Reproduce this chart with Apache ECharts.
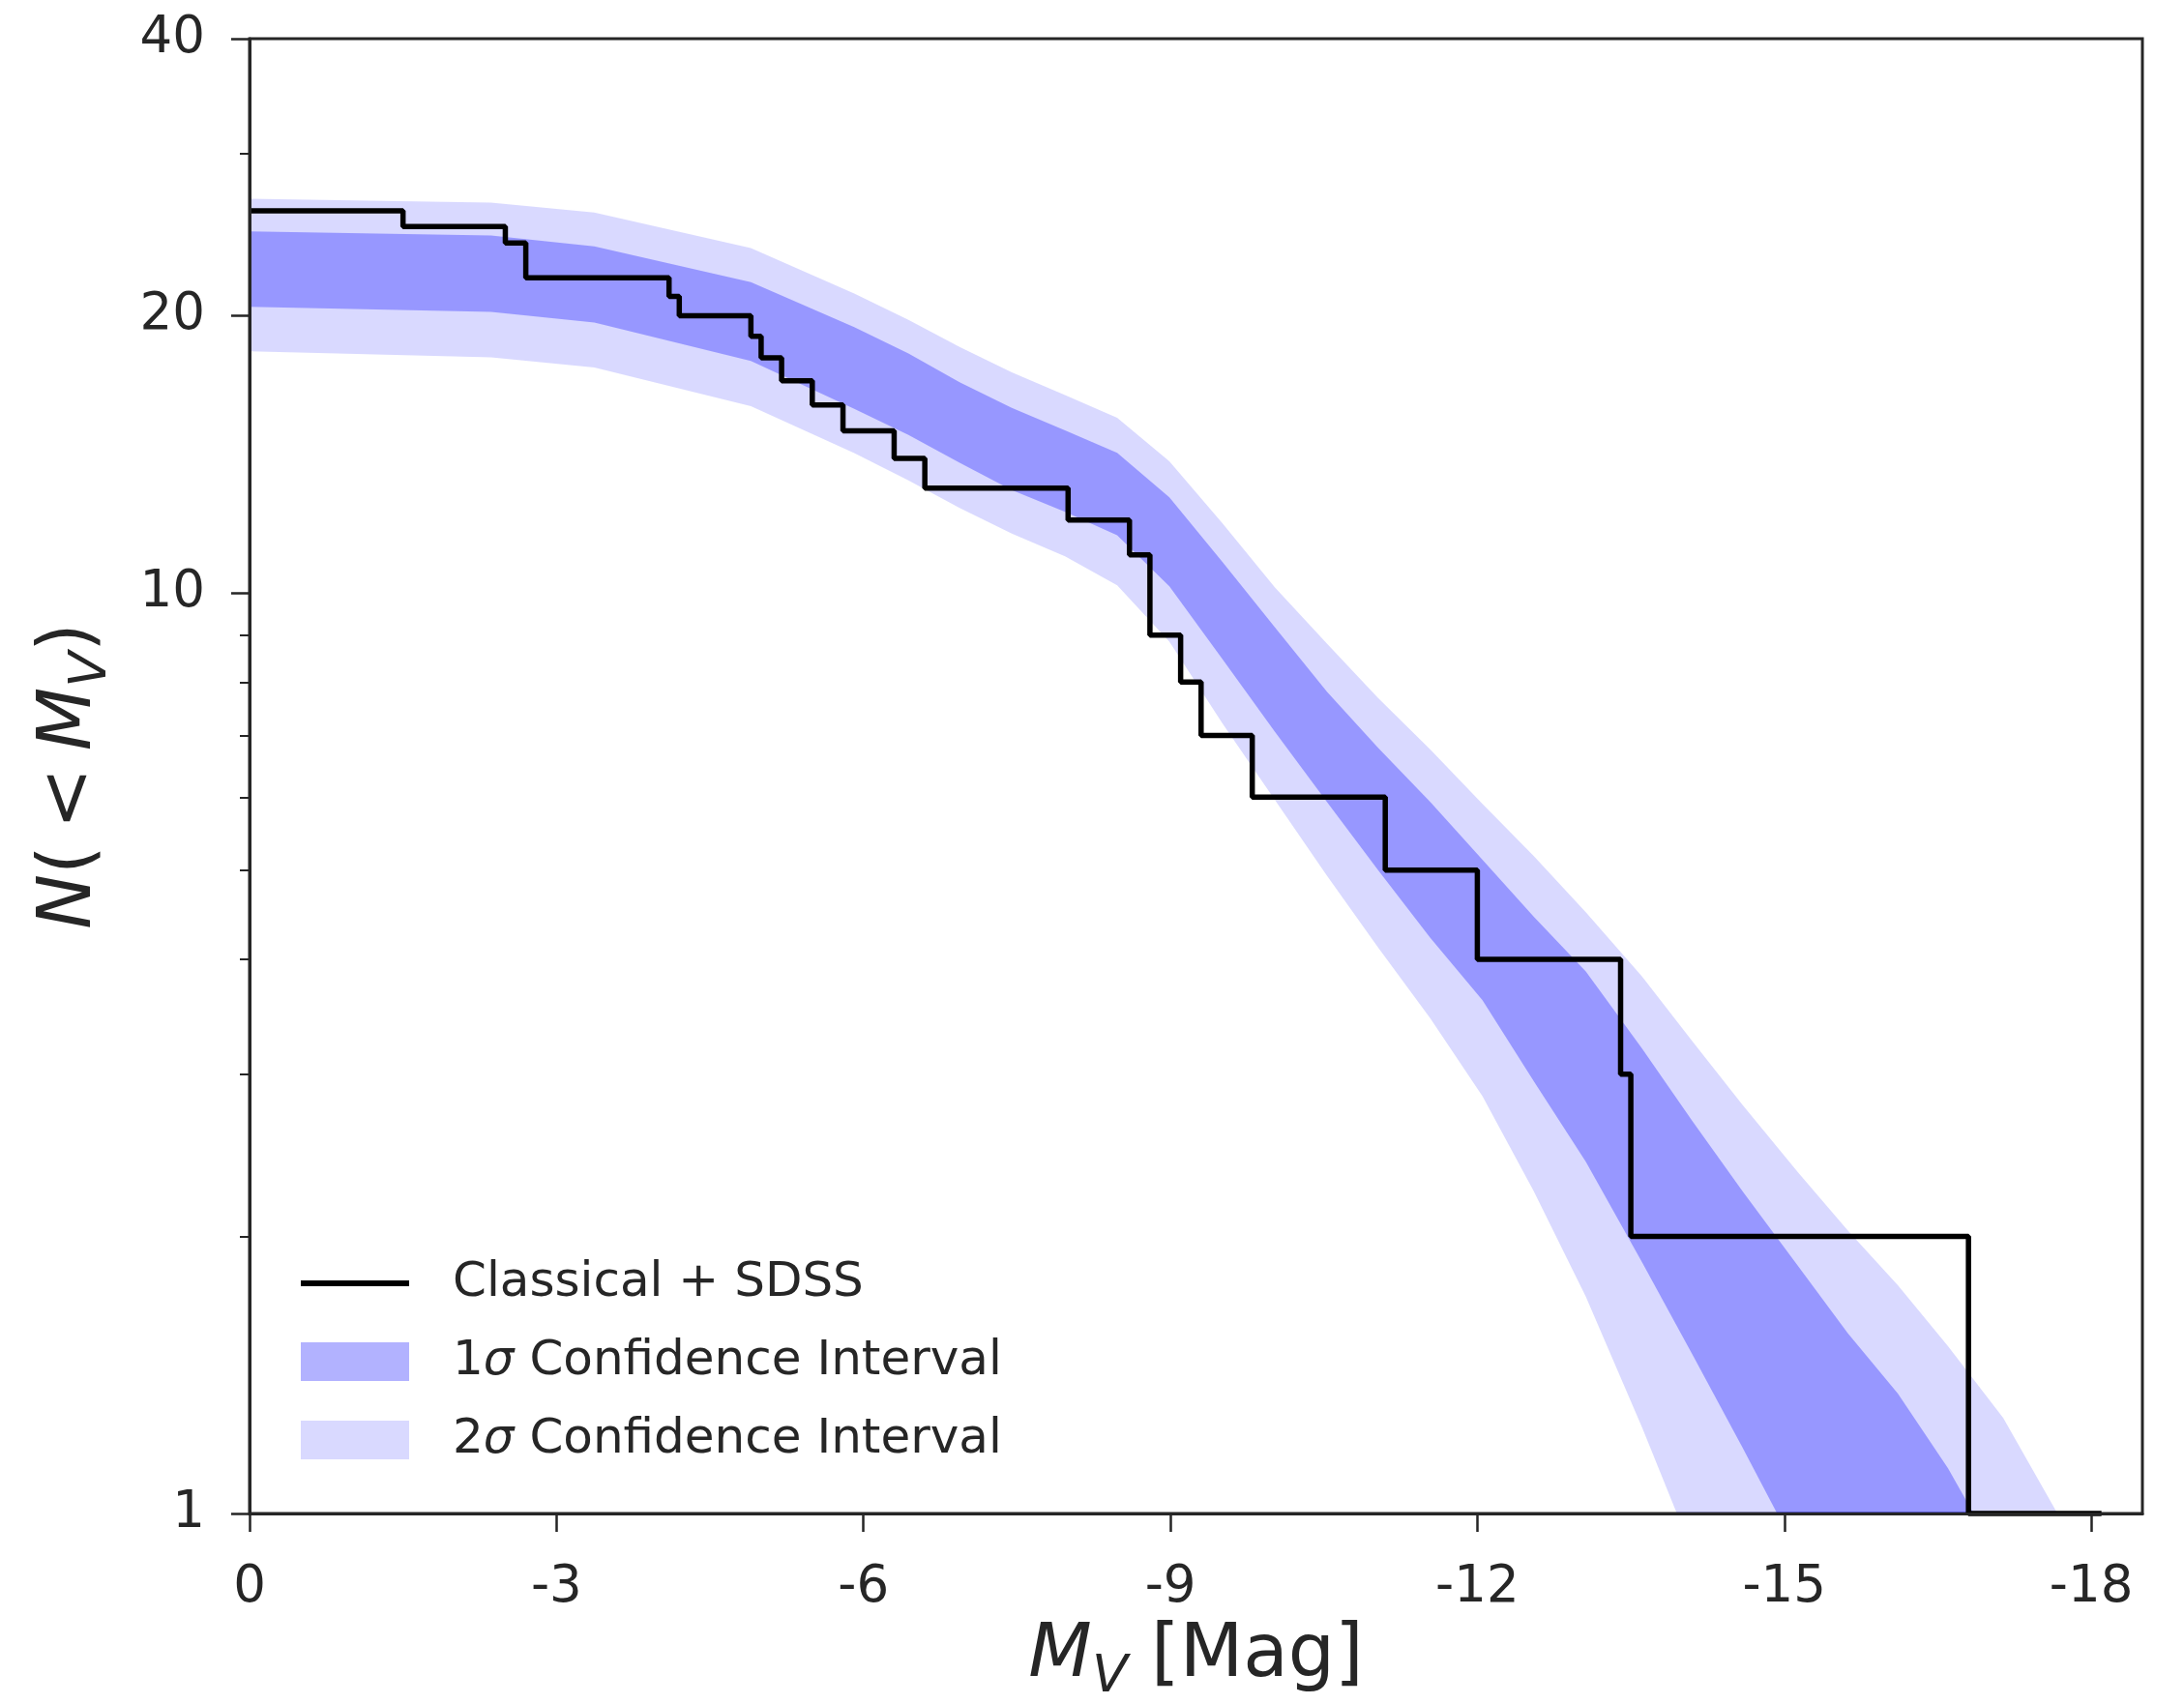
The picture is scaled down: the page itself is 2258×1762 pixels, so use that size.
<!DOCTYPE html>
<html>
<head>
<meta charset="utf-8">
<title>Cumulative luminosity function</title>
<script src="https://cdn.jsdelivr.net/npm/echarts@6/dist/echarts.min.js"></script>
<style>
  html, body { margin: 0; padding: 0; background: #fff; }
  #chart { width: 2258px; height: 1762px; }
</style>
</head>
<body>
<div id="chart"></div>
<script>
// observed satellites: N(<Mv) holds from each magnitude to the next one
var stepMag = [0, -1.5, -2.5, -2.7, -4.1, -4.2, -4.9, -5.0, -5.2, -5.5, -5.8, -6.3, -6.6,
               -8.0, -8.6, -8.8, -9.1, -9.3, -9.8, -11.1, -12.0, -13.4, -13.5, -16.8, -18.1];
var stepN = [26, 25, 24, 22, 21, 20, 19, 18, 17, 16, 15, 14, 13,
             12, 11, 9, 8, 7, 6, 5, 4, 3, 2, 1, 1];

// confidence band edges, read at these magnitudes
var bandMag = [0, -2.36, -3.37, -4.9, -5.91, -6.44, -6.94, -7.45, -7.97, -8.48, -8.99, -9.51,
               -10.02, -10.53, -11.03, -11.54, -12.05, -12.55, -13.06, -13.61, -14.1, -14.59,
               -15.13, -15.62, -16.11, -16.6, -17.14];
var upper2 = [26.8, 26.55, 25.9, 23.7, 21.15, 19.8, 18.5, 17.36, 16.4, 15.5, 13.9, 11.9,
              10.14, 8.81, 7.69, 6.76, 5.9, 5.18, 4.5, 3.83, 3.26, 2.78, 2.35, 2.03, 1.77, 1.52, 1.27];
var upper1 = [24.7, 24.45, 23.8, 21.75, 19.44, 18.2, 16.94, 15.89, 15.02, 14.2, 12.7, 10.8,
              9.18, 7.81, 6.79, 5.93, 5.13, 4.45, 3.88, 3.2, 2.67, 2.24, 1.86, 1.57, 1.35, 1.12];
var lower1 = [20.45, 20.2, 19.67, 17.86, 15.85, 14.85, 13.85, 12.93, 12.25, 11.55, 10.17, 8.47,
              7.07, 5.93, 5.0, 4.22, 3.61, 2.95, 2.41, 1.875, 1.49, 1.18];
var lower2 = [18.3, 18.03, 17.57, 15.95, 14.19, 13.25, 12.37, 11.6, 10.96, 10.19, 8.85, 7.21,
              5.96, 4.93, 4.12, 3.45, 2.84, 2.24, 1.72, 1.24];
// magnitude where each edge drops to N = 1
var upper2End = -17.67, upper1End = -16.85, lower1End = -14.93, lower2End = -13.95;

var xTicks = [0, -3, -6, -9, -12, -15, -18];
var yTicks = [1, 10, 20, 40];
var yMinorTicks = [2, 3, 4, 5, 6, 7, 8, 9, 30];

var FONT = 'DejaVu Sans';
var INK = '#262626';
var NAME_LINE = 'Classical + SDSS';
var NAME_1S = '1σ Confidence Interval';
var NAME_2S = '2σ Confidence Interval';

function lg(v) { return Math.log10(v); }

function edge(vals, end) {
  var pts = vals.map(function (v, i) { return [bandMag[i], v]; });
  pts.push([end, 1]);
  return pts;
}

function bandPolygon(upper, lower) {
  return upper.concat(lower.slice().reverse());
}

var band2 = bandPolygon(edge(upper2, upper2End), edge(lower2, lower2End));
var band1 = bandPolygon(edge(upper1, upper1End), edge(lower1, lower1End));

function bandRenderer(poly, color) {
  return function (params, api) {
    var pts = poly.map(function (p) { return api.coord([p[0], lg(p[1])]); });
    return { type: 'polygon', shape: { points: pts }, style: { fill: color } };
  };
}

var chart = echarts.init(document.getElementById('chart'));

var yMax = lg(40);

var titleRich = {
  i: { fontFamily: FONT, fontSize: 76, color: INK, fontStyle: 'italic' },
  s: { fontFamily: FONT, fontSize: 54, color: INK, fontStyle: 'italic', padding: [44, 0, 0, 0] },
  sp: { fontFamily: FONT, fontSize: 54, color: INK }
};

var option = {
  animation: false,
  backgroundColor: '#fff',
  grid: {
    left: 258, right: 43, top: 40, bottom: 197,
    outerBoundsMode: 'none',
    containLabel: false,
    show: true, borderColor: INK, borderWidth: 3, backgroundColor: 'transparent'
  },
  legend: {
    orient: 'vertical',
    left: 303,
    top: 1297,
    itemWidth: 112,
    itemHeight: 40,
    itemGap: 31,
    data: [
      { name: NAME_LINE, itemStyle: { opacity: 0 }, lineStyle: { width: 6, color: '#000' } },
      { name: NAME_1S, icon: 'rect' },
      { name: NAME_2S, icon: 'rect' }
    ],
    formatter: function (name) {
      if (name === NAME_1S) return '1{s|σ} Confidence Interval';
      if (name === NAME_2S) return '2{s|σ} Confidence Interval';
      return name;
    },
    textStyle: {
      fontFamily: FONT, fontSize: 50, color: INK, padding: [0, 0, 0, 40],
      rich: { s: { fontFamily: FONT, fontSize: 50, color: INK, fontStyle: 'italic' } }
    }
  },
  xAxis: {
    type: 'value',
    min: -18.5,
    max: 0,
    inverse: true,
    z: 10,
    name: '{i|M}{s|V} [Mag]',
    nameLocation: 'middle',
    nameGap: 99,
    nameTextStyle: { fontFamily: FONT, fontSize: 76, color: INK, rich: titleRich },
    axisLine: { lineStyle: { color: INK, width: 3 } },
    axisTick: { length: 19, lineStyle: { color: INK, width: 2.5 }, customValues: xTicks },
    axisLabel: {
      customValues: xTicks, margin: 51, fontFamily: FONT, fontSize: 53, color: INK,
      formatter: function (v) { return String(v); }
    },
    splitLine: { show: false }
  },
  yAxis: [
    {
      type: 'value',
      min: 0,
      max: yMax,
      z: 10,
      name: '{i|N}({sp| }<{sp| }{i|M}{s|V})',
      nameLocation: 'middle',
      nameRotate: 90,
      nameGap: 136,
      nameTextStyle: { fontFamily: FONT, fontSize: 76, color: INK, rich: titleRich },
      axisLine: { show: true, lineStyle: { color: INK, width: 3 } },
      axisTick: { length: 19, lineStyle: { color: INK, width: 2.5 }, customValues: yTicks.map(lg) },
      axisLabel: {
        customValues: yTicks.map(lg), margin: 46, fontFamily: FONT, fontSize: 53, color: INK,
        formatter: function (v) { return String(Math.round(Math.pow(10, v))); }
      },
      splitLine: { show: false }
    },
    {
      type: 'value',
      min: 0,
      max: yMax,
      position: 'left',
      z: 10,
      axisLine: { show: false },
      axisTick: { length: 10, lineStyle: { color: INK, width: 2 }, customValues: yMinorTicks.map(lg) },
      axisLabel: { show: false },
      splitLine: { show: false }
    }
  ],
  series: [
    {
      name: NAME_2S,
      type: 'custom',
      z: 1,
      itemStyle: { color: 'rgba(0,0,255,0.15)' },
      renderItem: bandRenderer(band2, 'rgba(0,0,255,0.15)'),
      data: [[0, 0]]
    },
    {
      name: NAME_1S,
      type: 'custom',
      z: 2,
      itemStyle: { color: 'rgba(0,0,255,0.3)' },
      renderItem: bandRenderer(band1, 'rgba(0,0,255,0.3)'),
      data: [[0, 0]]
    },
    {
      name: NAME_LINE,
      type: 'line',
      z: 5,
      step: 'end',
      symbol: 'none',
      clip: false,
      color: '#000',
      lineStyle: { color: '#000', width: 5.5 },
      data: stepMag.map(function (m, i) { return [m, lg(stepN[i])]; })
    }
  ]
};

chart.setOption(option);
</script>
</body>
</html>
